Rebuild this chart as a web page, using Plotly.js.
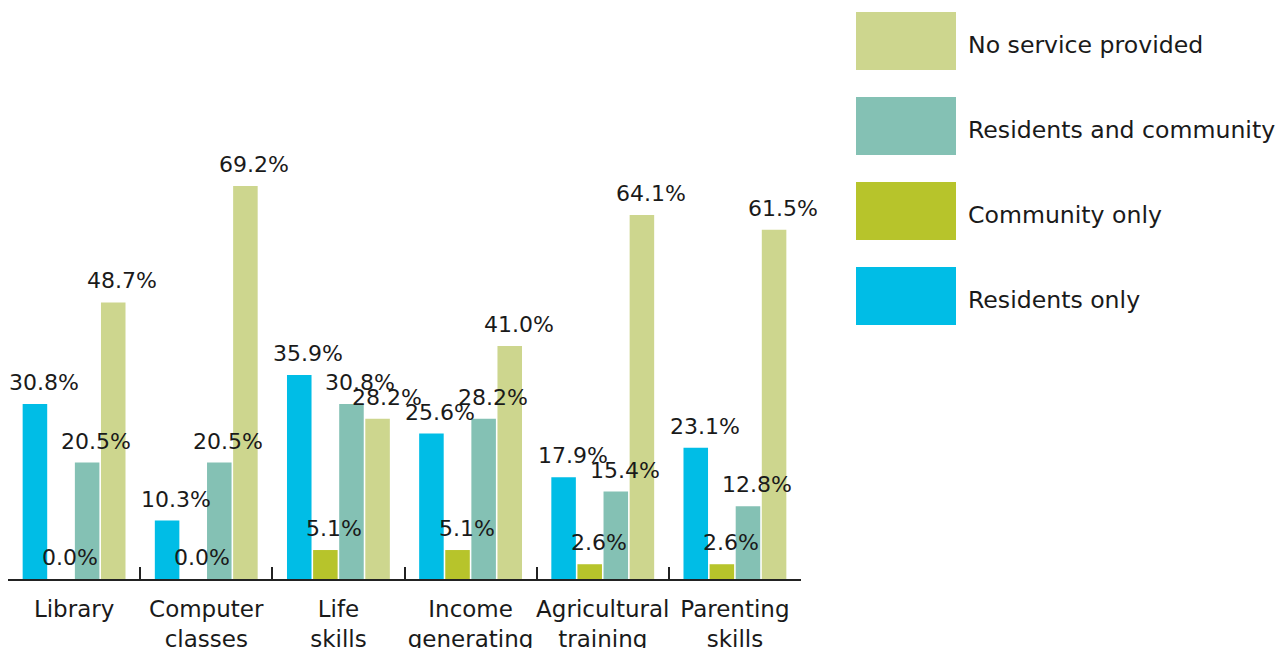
<!DOCTYPE html>
<html>
<head>
<meta charset="utf-8">
<script src="https://cdn.plot.ly/plotly-3.0.1.min.js"></script>
<style>html,body{margin:0;padding:0;background:#fff;}#chart{width:1277px;height:648px;}</style>
</head>
<body>
<div id="chart"></div>
<script>
const categories = ["Library", "Computer<br>classes", "Life<br>skills", "Income<br>generating", "Agricultural<br>training", "Parenting<br>skills"];
const seriesNames = ["Residents only", "Community only", "Residents and community", "No service provided"];
const residentsOnly = [30.8, 10.3, 35.9, 25.6, 17.9, 23.1];
const communityOnly = [0.0, 0.0, 5.1, 5.1, 2.6, 2.6];
const residentsAndCommunity = [20.5, 20.5, 30.8, 28.2, 15.4, 12.8];
const noService = [48.7, 69.2, 28.2, 41.0, 64.1, 61.5];
const seriesValues = [residentsOnly, communityOnly, residentsAndCommunity, noService];
const colors = ["#00BDE6", "#B7C42B", "#84C1B4", "#CDD68E"];

const W = 1277, H = 648;
const M = {l: 8, r: 476, t: 153, b: 69};
const pw = W - M.l - M.r, ph = H - M.t - M.b;
const FONT = "DejaVu Sans, sans-serif";
const BARGAP = 0.21, GROUPGAP = 0.06;
const TXT = "#1a1a1a";

const traces = seriesValues.map((vals, i) => ({
  type: "bar",
  name: seriesNames[i],
  x: categories,
  y: vals,
  marker: {color: colors[i]},
  hoverinfo: "skip"
}));

const shapes = [], annotations = [];

// value labels as annotations (drawn above all bars)
const catPx = pw / categories.length;
const slot = (1 - BARGAP) / seriesValues.length;
seriesValues.forEach((vals, i) => {
  const offPx = (-(1 - BARGAP) / 2 + slot * (i + 0.5)) * catPx;
  vals.forEach((v, j) => {
    annotations.push({
      xref: "x", yref: "y", x: j, y: v,
      xanchor: "center", yanchor: "bottom",
      xshift: offPx + 9, yshift: 7,
      showarrow: false,
      text: v.toFixed(1) + "%",
      font: {family: FONT, size: 22, color: TXT}
    });
  });
});

// custom legend (large swatches), reversed order
const px2x = px => (px - M.l) / pw;
const py2y = py => (H - M.b - py) / ph;
[3, 2, 1, 0].forEach((si, k) => {
  const top = 12 + k * 85;
  shapes.push({type: "rect", xref: "paper", yref: "paper",
    x0: px2x(856), x1: px2x(956), y0: py2y(top + 58), y1: py2y(top),
    fillcolor: colors[si], line: {width: 0}});
  annotations.push({xref: "paper", yref: "paper", x: px2x(966), y: py2y(top + 33),
    xanchor: "left", yanchor: "middle", showarrow: false, text: seriesNames[si],
    font: {family: FONT, size: 23.6, color: TXT}});
});

const layout = {
  width: W, height: H,
  margin: M,
  paper_bgcolor: "#fff", plot_bgcolor: "#fff",
  barmode: "group",
  bargap: BARGAP,
  bargroupgap: GROUPGAP,
  showlegend: false,
  font: {family: FONT, color: TXT},
  xaxis: {
    type: "category",
    range: [-0.5, categories.length - 0.5], autorange: false,
    showline: true, linecolor: "#222", linewidth: 2,
    ticks: "inside", tickson: "boundaries", ticklen: 12, tickwidth: 2, tickcolor: "#222",
    tickangle: 0, automargin: false,
    tickfont: {family: FONT, size: 23, color: TXT},
    ticklabelstandoff: 8,
    showgrid: false, zeroline: false, fixedrange: true
  },
  yaxis: {
    range: [0, 75], autorange: false, visible: false, showgrid: false, zeroline: false, fixedrange: true
  },
  shapes: shapes,
  annotations: annotations
};

Plotly.newPlot("chart", traces, layout, {displayModeBar: false, staticPlot: true});
</script>
</body>
</html>
